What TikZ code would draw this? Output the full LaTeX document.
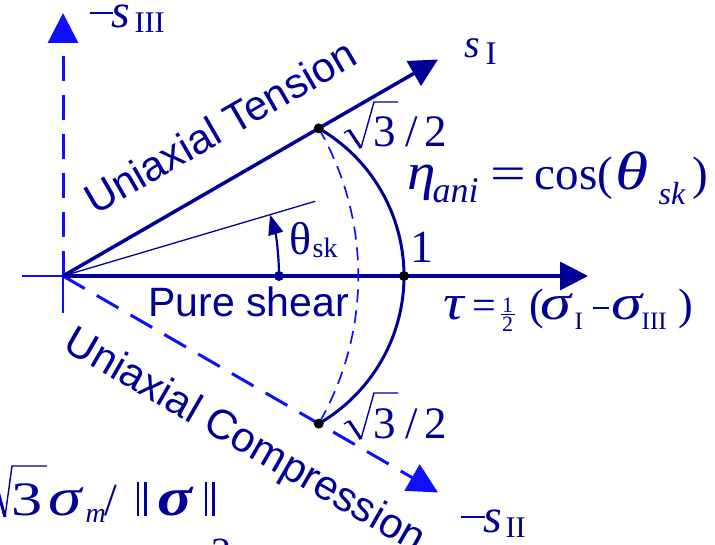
\documentclass[tikz,border=0pt]{standalone}
\usepackage{fontspec}
\setmainfont{Liberation Serif}
\setsansfont{Liberation Sans}
\usepackage{graphicx}
\usetikzlibrary{arrows.meta,calc}
\definecolor{navy}{RGB}{0,0,150}
\definecolor{bblue}{RGB}{15,15,255}
\newcommand\at[2]{\rlap{\hspace*{#1}#2}}
\newcommand\fs[1]{\fontsize{#1}{#1}\selectfont}
\newcommand\gk[3]{\scalebox{#2}[1]{\fs{#1}\itshape #3}}
\newcommand\bars{\rule[-1pt]{2.2pt}{34pt}\hspace{5.5pt}\rule[-1pt]{2.2pt}{34pt}}
\begin{document}
\begin{tikzpicture}[x=1pt,y=1pt,
  axis/.style={navy,line width=3.5pt,-{Triangle[length=28pt,width=28pt]}},
  daxis/.style={bblue,line width=3pt,dash pattern=on 25pt off 14pt,-{Triangle[length=30pt,width=30pt]}},
  thin/.style={bblue,line width=1.3pt},
  lab/.style={inner sep=0pt,text=navy},
  sanslab/.style={inner sep=0pt,text=navy,font=\sffamily\fs{42}},
  dot/.style={circle,fill=black,inner sep=0pt,minimum size=10pt},
  radh/.style={navy,line width=3pt},
  radt/.style={navy,line width=1.4pt},
]
\useasboundingbox (0,0) rectangle (715,544);
\clip (0,0) rectangle (715,544);
\coordinate (O) at (63,268);
\coordinate (tipH) at ($(O)+(525,0)$);
\coordinate (tipI) at ($(O)+(30:433)$);
\coordinate (tipII) at ($(O)+(-30:433)$);
\coordinate (tipIII) at ($(O)+(0,263)$);
\coordinate (xl) at ($(O)+(-41,0)$);
\coordinate (yd) at ($(O)+(0,-37)$);
\coordinate (thEnd) at ($(O)+(16.5:263)$);
\coordinate (thStart) at ($(O)+(216,0)$);
\coordinate (pT) at ($(O)+(30:295.3)$);
\coordinate (pC) at ($(O)+(-30:295.3)$);
\coordinate (p1) at ($(O)+(341,0)$);
% thin cross
\draw[thin] (xl) -- (O) -- (yd);
% dashed axes
\draw[daxis] (O) -- (tipIII);
\draw[daxis] (O) -- (tipII);
% solid axes
\draw[axis] (O) -- (tipH);
\draw[axis] (O) -- (tipI);
% theta line
\draw[navy,line width=1.3pt] (O) -- (thEnd);
% arcs
\draw[bblue,line width=1.7pt,dash pattern=on 13pt off 8pt] (pT) arc[start angle=30,end angle=-30,radius=295.3];
\draw[navy,line width=3pt] (pT) arc[start angle=60,end angle=-60,radius=170.5];
% theta arrow
\draw[navy,line width=2.2pt,-{Triangle[length=20pt,width=15pt]}] (thStart) arc[start angle=0,end angle=16.5,radius=216];
\node[circle,fill=navy,inner sep=0pt,minimum size=10pt] (thdot) at (thStart) {};
\node[dot] (dT) at (pT) {};
\node[dot] (dC) at (pC) {};
\node[dot] (d1) at (p1) {};
% sans labels
\node[sanslab,rotate=30,anchor=base] (tension) at (227.5,404.5) {Uniaxial Tension};
\node[sanslab,rotate=-30,anchor=base] (compr) at (238.8,92.6) {Uniaxial Compression};
\node[sanslab,font=\sffamily\fs{41},anchor=base] (shear) at (248.5,227) {Pure shear};
% axis labels
\node[lab,anchor=base west] (sIII) at (89,516) {\at{0pt}{\rule[14pt]{23pt}{1.6pt}}\at{22pt}{\fs{48}\itshape s}\at{45pt}{\raisebox{-5pt}{\fs{30}III}}};
\node[lab,anchor=base west] (sI) at (464,486) {\at{0pt}{\fs{40}\itshape s}\at{21pt}{\raisebox{-7pt}{\fs{33}I}}};
\node[lab,anchor=base west] (sII) at (460,12) {\at{0pt}{\rule[14pt]{24pt}{1.6pt}}\at{23pt}{\fs{48}\itshape s}\at{45pt}{\raisebox{-5pt}{\fs{30}II}}};
% theta_sk
\node[lab,anchor=base west] (thlab) at (289,289) {\at{0pt}{\fs{46}θ}\at{23pt}{\raisebox{-3pt}{\fs{28}sk}}};
% one
\node[lab,anchor=base west] (one) at (410,281) {\fs{46}1};
% eta label
\node[lab,anchor=base west] (eta) at (407,354) {\at{0pt}{\gk{52}{1.1}{η}}\at{25pt}{\raisebox{-13pt}{\fs{36}\itshape ani}}\at{83pt}{\scalebox{1.35}[1]{\fs{47}=}}\at{127pt}{\fs{47}cos(}\at{208pt}{\gk{54}{1.25}{θ}}\at{251pt}{\raisebox{-15pt}{\fs{32}\itshape sk}}\at{285pt}{\fs{47})}};
% tau label
\node[lab,anchor=base west] (tau) at (443,224) {\at{0pt}{\gk{50}{1.15}{τ}}\at{29pt}{\fs{42}=}\at{57pt}{\raisebox{-12pt}{\fs{22}\vbox{\hbox to 14pt{\hss 1\hss}\kern1.5pt\hrule height 1.3pt\kern2pt\hbox to 14pt{\hss 2\hss}}}}\at{86pt}{\fs{44}(}\at{97pt}{\gk{50}{1.25}{σ}}\at{131pt}{\raisebox{-10pt}{\fs{25}I}}\at{149pt}{\rule[11pt]{16pt}{1.6pt}}\at{168pt}{\gk{50}{1.25}{σ}}\at{198pt}{\raisebox{-10pt}{\fs{25}III}}\at{235pt}{\fs{44})}};
% sqrt3/2 labels
\node[lab,anchor=base west] (rtop) at (373,397) {\fs{45}\at{0pt}{3}\at{32pt}{/}\at{51pt}{2}};
\draw[radt] (344,411) -- (349,414);
\draw[radh] (349,414) -- (361,396);
\draw[radt] (361,396) -- (374,442) -- (398,442);
\node[lab,anchor=base west] (rbot) at (373,106) {\fs{45}\at{0pt}{3}\at{32pt}{/}\at{51pt}{2}};
\draw[radt] (344,120) -- (349,123);
\draw[radh] (349,123) -- (361,105);
\draw[radt] (361,105) -- (374,151) -- (398,151);
% bottom-left formula
\draw[radh] (-4,60) -- (5,27);
\draw[radt] (5,27) -- (12,78) -- (47,78);
\node[lab,anchor=base west] (form) at (0,29) {\at{11pt}{\scalebox{1.3}[1]{\fs{48}3}}\at{48pt}{\gk{54}{1.25}{σ}}\at{85pt}{\raisebox{-7pt}{\fs{28}\itshape m}}\at{104pt}{\fs{46}/}\at{136pt}{\bars}\at{157pt}{\scalebox{1.2}[1]{\fs{54}\bfseries\itshape σ}}\at{204pt}{\bars}};
\node[lab,anchor=base west] (frag) at (211,-21) {\fs{40}2};
\end{tikzpicture}
\end{document}
